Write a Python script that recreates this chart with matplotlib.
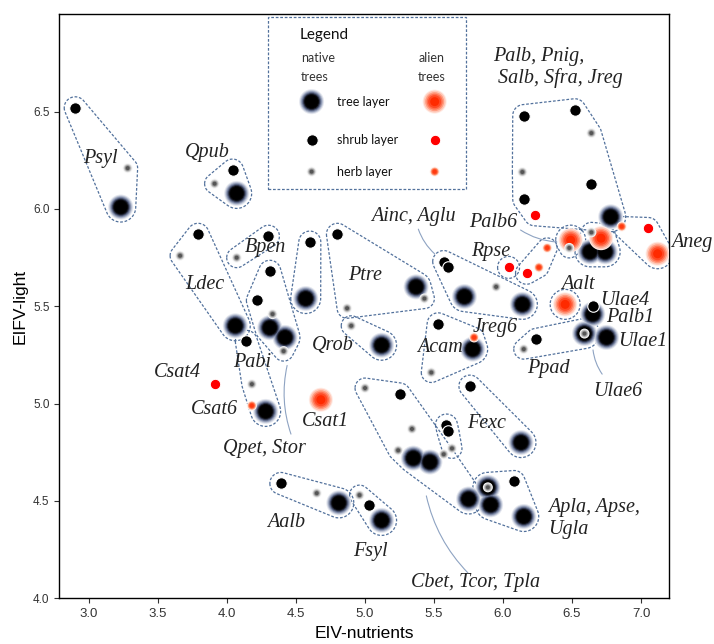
import numpy as np
import matplotlib.pyplot as plt

# species points: EIV-nutrients (x), EIFV-light (y)
nutrients = [2.90, 3.28, 3.23, 4.04, 3.91, 4.07, 3.79, 3.66, 4.06, 4.30,
             4.07, 4.31, 4.22, 4.33, 4.31, 4.42, 4.41, 4.14, 4.18, 4.28,
             4.18, 3.91, 4.68, 4.60, 4.57, 4.80, 4.87, 5.37, 5.43, 4.90,
             5.12, 5.57, 5.60, 5.72, 5.95, 6.14, 5.53, 5.78, 5.79, 5.48,
             5.76, 6.13, 5.59, 5.60, 5.63, 5.57, 5.00, 5.25, 5.34, 5.24,
             5.35, 5.47, 5.75, 5.89, 5.89, 5.91, 6.08, 6.15, 4.39, 4.65,
             4.81, 4.96, 5.03, 5.12, 6.15, 6.52, 6.64, 6.14, 6.64, 6.15,
             6.23, 6.78, 6.86, 7.05, 7.12, 6.49, 6.64, 6.71, 6.63, 6.74,
             6.48, 6.32, 6.04, 6.17, 6.26, 6.45, 6.65, 6.65, 6.59, 6.59,
             6.75, 6.24, 6.15]
light = [6.52, 6.21, 6.01, 6.20, 6.13, 6.08, 5.87, 5.76, 5.40, 5.86,
         5.75, 5.68, 5.53, 5.46, 5.39, 5.34, 5.27, 5.32, 5.10, 4.96,
         4.99, 5.10, 5.02, 5.83, 5.54, 5.87, 5.49, 5.60, 5.54, 5.40,
         5.30, 5.73, 5.70, 5.55, 5.60, 5.51, 5.41, 5.28, 5.34, 5.16,
         5.09, 4.80, 4.89, 4.86, 4.77, 4.74, 5.08, 5.05, 4.87, 4.76,
         4.72, 4.70, 4.51, 4.57, 4.57, 4.48, 4.60, 4.42, 4.59, 4.54,
         4.49, 4.53, 4.48, 4.40, 6.48, 6.51, 6.39, 6.19, 6.13, 6.05,
         5.97, 5.96, 5.91, 5.90, 5.77, 5.84, 5.88, 5.85, 5.78, 5.78,
         5.80, 5.80, 5.70, 5.67, 5.70, 5.51, 5.46, 5.50, 5.36, 5.36,
         5.34, 5.33, 5.28]
layer = ['shrub', 'herb', 'tree', 'shrub', 'herb', 'tree', 'shrub', 'herb', 'tree', 'shrub',
         'herb', 'shrub', 'shrub', 'herb', 'tree', 'tree', 'herb', 'shrub', 'herb', 'tree',
         'herb', 'shrub', 'tree', 'shrub', 'tree', 'shrub', 'herb', 'tree', 'herb', 'herb',
         'tree', 'shrub', 'shrub', 'tree', 'herb', 'tree', 'shrub', 'tree', 'herb', 'herb',
         'shrub', 'tree', 'shrub', 'shrub', 'herb', 'herb', 'herb', 'shrub', 'herb', 'herb',
         'tree', 'tree', 'tree', 'tree', 'herb', 'tree', 'shrub', 'tree', 'shrub', 'herb',
         'tree', 'herb', 'shrub', 'tree', 'shrub', 'shrub', 'herb', 'herb', 'shrub', 'shrub',
         'shrub', 'tree', 'herb', 'shrub', 'tree', 'tree', 'herb', 'tree', 'tree', 'tree',
         'herb', 'herb', 'shrub', 'shrub', 'herb', 'tree', 'tree', 'shrub', 'tree', 'herb',
         'tree', 'shrub', 'herb']
alien = [0, 0, 0, 0, 0, 0, 0, 0, 0, 0,
         0, 0, 0, 0, 0, 0, 0, 0, 0, 0,
         1, 1, 1, 0, 0, 0, 0, 0, 0, 0,
         0, 0, 0, 0, 0, 0, 0, 0, 1, 0,
         0, 0, 0, 0, 0, 0, 0, 0, 0, 0,
         0, 0, 0, 0, 0, 0, 0, 0, 0, 0,
         0, 0, 0, 0, 0, 0, 0, 0, 0, 0,
         1, 0, 1, 1, 1, 1, 0, 1, 0, 0,
         0, 1, 1, 1, 1, 1, 0, 0, 0, 0,
         0, 0, 0]
group = ['Psyl', 'Psyl', 'Psyl', 'Qpub', 'Qpub', 'Qpub', 'Ldec', 'Ldec', 'Ldec', 'Bpen',
         'Bpen', 'Qpet', 'Qpet', 'Qpet', 'Qpet', 'Qpet', 'Qpet', 'Pabi', 'Pabi', 'Pabi',
         '', '', '', 'G1', 'G1', 'Ptre', 'Ptre', 'Ptre', 'Ptre', 'Qrob',
         'Qrob', 'Ainc', 'Ainc', 'Ainc', 'Ainc', 'Ainc', 'Acam', 'Acam', 'Acam', 'Acam',
         'Fexc', 'Fexc', 'G2', 'G2', 'G2', 'Cbet', 'Cbet', 'Cbet', 'Cbet', 'Cbet',
         'Cbet', 'Cbet', 'Cbet', 'Apla', 'Apla', 'Apla', 'Apla', 'Apla', 'Aalb', 'Aalb',
         'Aalb', 'Fsyl', 'Fsyl', 'Fsyl', 'Palb', 'Palb', 'Palb', 'Palb', 'Palb', 'Palb',
         'Palb', 'Palb', 'Aneg', 'Aneg', 'Aneg', 'Palb6', 'G3', 'G3', 'G3', 'G3',
         'Palb6', 'G4', 'Rpse', 'G4', 'G4', 'Aalt', '', '', 'Ppad', 'Ppad',
         '', 'Ppad', 'Ppad']

label_text = ['Psyl', 'Qpub', 'Ldec', 'Bpen', 'Ptre', 'Qrob', 'Pabi', 'Csat4', 'Csat6',
              'Csat1', 'Qpet, Stor', 'Aalb', 'Fsyl', 'Cbet, Tcor, Tpla', 'Fexc', 'Acam',
              'Jreg6', 'Ainc, Aglu', 'Palb6', 'Rpse', 'Aalt', 'Ulae4', 'Palb1', 'Ulae1',
              'Ulae6', 'Ppad', 'Aneg']
label_x = [3.08, 3.86, 3.84, 4.28, 5.00, 4.77, 4.18, 3.64, 3.91,
           4.71, 4.27, 4.43, 5.04, 5.80, 5.88, 5.54,
           5.94, 5.35, 5.93, 5.91, 6.54, 6.88, 6.92, 7.01,
           6.83, 6.33, 7.37]
label_y = [6.26, 6.29, 5.61, 5.80, 5.66, 5.30, 5.21, 5.16, 4.97,
           4.91, 4.77, 4.39, 4.24, 4.08, 4.90, 5.29,
           5.39, 5.96, 5.93, 5.78, 5.61, 5.53, 5.44, 5.32,
           5.06, 5.18, 5.83]

# leader lines (from, to)
leaders = [((6.11, 5.90), (6.41, 5.83)),
           ((5.38, 5.91), (5.52, 5.76)),
           ((4.44, 5.21), (4.47, 4.83)),
           ((5.44, 4.54), (5.76, 4.12)),
           ((6.65, 5.29), (6.73, 5.14))]

# marker looks: (diameter in px, colour), outer to inner
styles = {
    (0, 'tree'): [(25, '#e4e7ef'), (23, '#bcc3d4'), (21, '#8c97b2'), (19, '#5c6785'),
                  (17, '#2c3247'), (15, '#0a0b10'), (13, '#000000')],
    (1, 'tree'): [(24, '#ffebe4'), (22, '#ffc9b9'), (19, '#ff9c80'), (16, '#ff7050'),
                  (13, '#ff4a25'), (9, '#ff2a00')],
    (0, 'shrub'): [(11.5, '#000000')],
    (1, 'shrub'): [(10.5, '#ff0000')],
    (0, 'herb'): [(10, '#f4f4f4'), (8, '#cccccc'), (6, '#979797'), (4, '#555555')],
    (1, 'herb'): [(10, '#fff0ea'), (8, '#ffa080'), (6, '#ff5a30'), (4, '#ff3a10')],
}
hull_pad = {'tree': 15, 'shrub': 11, 'herb': 10}


def size(d):
    return (d * 0.72) ** 2


def draw_marker(ax, xs, ys, key, z, **kw):
    for d, c in styles[key]:
        ec = 'white' if key[1] == 'shrub' else 'none'
        ax.scatter(xs, ys, s=size(d), color=c, edgecolors=ec,
                   linewidths=0.8 if ec == 'white' else 0, zorder=z, **kw)


def convex_hull(p):
    p = sorted(map(tuple, p))
    def cross(o, a, b):
        return (a[0] - o[0]) * (b[1] - o[1]) - (a[1] - o[1]) * (b[0] - o[0])
    lower, upper = [], []
    for q in p:
        while len(lower) >= 2 and cross(lower[-2], lower[-1], q) <= 0:
            lower.pop()
        lower.append(q)
    for q in reversed(p):
        while len(upper) >= 2 and cross(upper[-2], upper[-1], q) <= 0:
            upper.pop()
        upper.append(q)
    return np.array(lower[:-1] + upper[:-1])


fig = plt.figure(figsize=(7.14, 6.44), dpi=100)
ax = fig.add_axes([0.0831, 0.0710, 0.8534, 0.9067])
ax.set_xlim(2.785, 7.2)
ax.set_ylim(4.0, 7.0)

nut = np.array(nutrients)
lig = np.array(light)
lay = np.array(layer)
ali = np.array(alien)
grp = np.array(group)

# dashed outlines around each species group
ang = np.linspace(0, 2 * np.pi, 40, endpoint=False)
circ = np.column_stack([np.cos(ang), np.sin(ang)])
for g in dict.fromkeys(group):
    if not g:
        continue
    m = grp == g
    pix = ax.transData.transform(np.column_stack([nut[m], lig[m]]))
    cloud = np.vstack([p + hull_pad[l] * circ for p, l in zip(pix, lay[m])])
    h = convex_hull(cloud)
    h = np.vstack([h, h[:1]])
    h = ax.transData.inverted().transform(h)
    ax.plot(h[:, 0], h[:, 1], color='#52719c', lw=0.9, ls=(0, (2.2, 1.4)), zorder=2)

for (x0, y0), (x1, y1) in leaders:
    ax.annotate('', xy=(x1, y1), xytext=(x0, y0),
                arrowprops=dict(arrowstyle='-', color='#8ea3c2', lw=0.8,
                                connectionstyle='arc3,rad=0.15'), zorder=2)

zs = {'tree': 3, 'shrub': 4, 'herb': 5}
for l in ['tree', 'shrub', 'herb']:
    for a in [0, 1]:
        m = (lay == l) & (ali == a)
        draw_marker(ax, nut[m], lig[m], (a, l), zs[l] + 0.1 * a)

serif = dict(family='Liberation Serif', style='italic', fontsize=14.5, color='#222222')
for t, x, y in zip(label_text, label_x, label_y):
    ax.text(x, y, t, ha='center', va='center', clip_on=False, zorder=6, **serif)
ax.text(5.928, 6.728, 'Palb, Pnig,\n Salb, Sfra, Jreg', ha='left', va='center',
        linespacing=1.15, zorder=6, **serif)
ax.text(6.326, 4.41, 'Apla, Apse,\nUgla', ha='left', va='center',
        linespacing=1.15, clip_on=False, zorder=6, **serif)

# legend box
tr = ax.transAxes
ax.add_patch(plt.Rectangle((0.343, 0.7005), 0.3245, 0.2955, transform=tr, fill=True,
                           fc='white', ec='#52719c', lw=0.9, ls=(0, (2.2, 1.4)), zorder=7))
lf = dict(family='Lato', transform=tr, zorder=8, va='center')
ax.text(0.395, 0.965, 'Legend', fontsize=11, color='#111111', **lf)
ax.text(0.396, 0.925, 'native', fontsize=9, color='#333333', **lf)
ax.text(0.396, 0.893, 'trees', fontsize=9, color='#333333', **lf)
ax.text(0.589, 0.925, 'alien', fontsize=9, color='#333333', **lf)
ax.text(0.589, 0.893, 'trees', fontsize=9, color='#333333', **lf)
for l, yy, txt in [('tree', 0.8505, 'tree layer'), ('shrub', 0.785, 'shrub layer'),
                   ('herb', 0.7306, 'herb layer')]:
    draw_marker(ax, [0.414], [yy], (0, l), 8, transform=tr, clip_on=False)
    draw_marker(ax, [0.616], [yy], (1, l), 8, transform=tr, clip_on=False)
    ax.text(0.456, yy, txt, fontsize=9, color='#111111', **lf)

ax.set_xticks([3.0, 3.5, 4.0, 4.5, 5.0, 5.5, 6.0, 6.5, 7.0])
ax.set_yticks([4.0, 4.5, 5.0, 5.5, 6.0, 6.5])
ax.set_xticklabels(['3.0', '3.5', '4.0', '4.5', '5.0', '5.5', '6.0', '6.5', '7.0'],
                   family=['Liberation Sans Narrow', 'Liberation Sans'], fontsize=9.5,
                   color='#333333')
ax.set_yticklabels(['4.0', '4.5', '5.0', '5.5', '6.0', '6.5'],
                   family='Liberation Sans', fontsize=8.5, color='#333333')
ax.tick_params(length=3.5, width=0.8, color='#333333')
for s in ax.spines.values():
    s.set_linewidth(1.0)
ax.set_xlabel('EIV-nutrients', family='Liberation Sans', fontsize=12.5, labelpad=4)
ax.set_ylabel('EIFV-light', family='Liberation Sans', fontsize=12.5, labelpad=4)

fig.savefig('out.png', dpi=100)
